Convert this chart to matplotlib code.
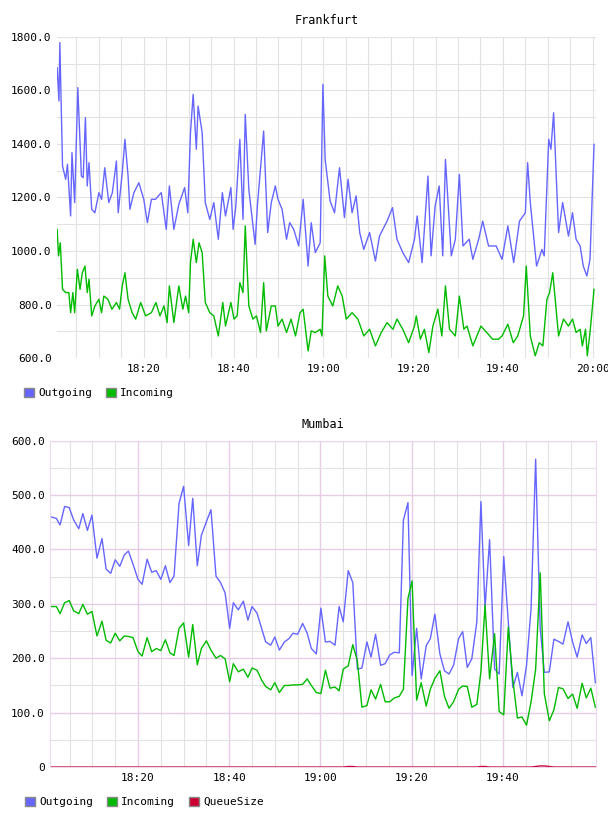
import matplotlib
matplotlib.use("Agg")
import matplotlib.pyplot as plt
from matplotlib.patches import Patch
from matplotlib.ticker import FuncFormatter

plt.rcParams['font.family'] = ['DejaVu Sans Mono']

# Frankfurt (minutes since 18:00)
fra_out_t = [0.7,1.1,1.3,1.9,2.6,3.0,3.7,4.0,4.6,5.3,6.1,6.5,7.0,7.4,7.8,8.4,9.1,10.0,10.6,11.3,12.2,13.0,13.9,14.3,15.2,15.8,16.5,16.9,17.8,18.9,20.0,20.8,21.7,22.6,23.9,25.0,25.7,26.7,27.8,29.1,29.8,30.4,31.0,31.7,32.1,33.0,33.7,34.7,35.6,36.6,37.5,38.2,39.4,39.9,40.5,41.4,42.1,42.6,43.4,44.8,45.3,46.7,47.6,48.4,49.3,49.9,50.8,51.8,52.5,53.4,54.5,55.5,56.6,57.3,58.2,59.3,59.9,60.4,61.5,62.5,63.6,64.7,65.5,66.4,67.3,68.1,69.0,70.3,71.6,72.5,74.2,75.4,76.4,77.7,79.0,80.3,80.9,82.0,83.3,84.0,84.9,85.8,86.6,87.2,88.5,89.4,90.3,91.1,92.5,93.3,94.6,95.5,96.8,98.5,99.8,101.1,102.4,103.7,105.0,105.5,106.1,106.9,107.5,108.7,109.2,110.2,110.7,111.3,112.4,113.3,114.6,115.5,116.3,117.2,117.9,118.7,119.4,120.3]
fra_out = [1684,1560,1778,1317,1268,1324,1131,1367,1181,1610,1280,1274,1498,1243,1330,1156,1143,1218,1193,1311,1181,1218,1336,1143,1293,1417,1280,1156,1218,1255,1193,1106,1193,1193,1218,1081,1243,1081,1174,1237,1143,1442,1585,1380,1541,1442,1181,1118,1181,1044,1218,1131,1237,1081,1168,1417,1118,1510,1230,1025,1168,1448,1069,1181,1243,1193,1156,1044,1106,1081,1019,1193,944,1106,994,1031,1622,1342,1187,1143,1311,1125,1268,1143,1206,1069,1006,1069,963,1056,1112,1162,1044,994,957,1044,1131,957,1280,982,1168,1243,982,1342,982,1044,1286,1019,1044,969,1044,1112,1019,1019,969,1094,957,1112,1143,1330,1181,1044,944,1006,982,1417,1380,1516,1069,1181,1056,1143,1044,1019,944,907,969,1398]
fra_in_t = [0.7,1.0,1.4,1.9,2.6,3.3,3.7,4.2,4.6,5.2,5.8,6.3,6.9,7.4,7.8,8.4,9.1,10.0,10.6,11.1,12.0,12.9,13.9,14.6,15.2,15.8,16.5,17.4,18.2,19.3,20.4,21.7,22.7,23.6,24.5,25.2,25.7,26.7,27.8,28.7,29.3,30.0,30.4,31.0,31.7,32.3,33.0,33.7,34.7,35.6,36.6,37.6,38.2,39.4,40.1,40.8,41.4,42.1,42.6,43.4,44.3,45.1,46.0,46.7,47.3,48.4,49.3,49.9,50.8,51.8,52.8,53.8,54.8,55.5,56.6,57.3,58.2,59.3,59.7,60.3,61.0,62.1,63.2,64.2,65.1,66.4,67.7,69.0,70.3,71.6,72.9,74.2,75.5,76.4,77.7,79.0,80.3,80.7,81.6,82.5,83.5,84.4,85.5,86.4,87.2,88.1,89.4,90.3,91.3,92.0,93.3,94.2,95.1,96.4,97.7,99.0,99.8,101.1,102.3,103.3,104.6,105.2,106.1,107.2,108.1,108.9,109.8,110.4,111.1,112.4,113.5,114.6,115.5,116.3,117.2,117.7,118.4,118.8,119.4,120.3]
fra_in = [1081,982,1031,857,845,845,770,845,770,932,857,919,944,845,895,758,795,820,770,832,820,783,808,783,870,919,820,770,746,808,758,770,808,758,795,733,870,733,870,783,832,770,957,1044,957,1031,994,808,770,758,683,808,720,808,746,758,882,845,1094,795,746,758,696,882,702,795,795,720,746,696,746,683,770,783,627,702,696,708,683,982,832,795,870,832,746,770,746,683,708,646,696,733,708,746,708,658,720,758,671,708,621,720,783,683,870,708,683,832,708,720,646,683,720,696,671,671,683,727,658,683,758,944,683,609,658,646,820,845,919,683,746,720,746,696,708,646,708,609,696,857]

# Mumbai
mum_t = [0.9,2.1,2.9,3.9,4.9,5.9,7.0,7.9,8.9,9.9,11.0,12.1,13.0,14.0,15.0,16.0,17.0,17.9,18.9,20.0,20.9,22.0,23.0,24.0,25.0,26.0,27.0,27.9,29.0,30.0,31.1,32.0,33.0,33.9,35.0,36.0,37.1,38.1,39.1,40.1,40.9,42.0,43.1,44.1,45.0,46.1,47.1,48.0,49.1,50.0,51.0,52.1,53.1,54.0,55.0,56.1,57.1,58.0,59.1,60.1,61.1,62.1,63.2,64.1,65.0,66.1,67.1,68.1,69.1,70.2,71.1,72.1,73.2,74.2,75.2,76.2,77.3,78.2,79.2,80.1,81.1,82.1,83.2,84.1,85.1,86.2,87.2,88.2,89.2,90.3,91.2,92.2,93.2,94.3,95.2,96.1,97.1,98.2,99.2,100.2,101.2,102.2,103.2,104.2,105.2,106.2,107.2,108.2,109.1,110.2,111.2,112.2,113.2,114.3,115.3,116.3,117.4,118.3,119.3,120.3]
mum_out = [460,457,445,479,477,454,438,466,435,463,384,420,364,356,381,369,390,397,373,345,336,382,358,361,345,370,339,351,485,516,407,494,370,426,451,473,351,339,320,255,302,289,305,270,295,283,255,230,224,239,215,230,236,246,244,264,246,218,208,292,230,231,224,295,267,361,339,180,182,230,202,244,187,190,206,211,210,454,486,168,255,162,223,236,281,208,177,171,187,236,249,183,199,267,488,292,418,180,171,387,267,146,174,131,187,292,566,255,174,175,235,231,226,267,230,202,243,227,238,155]
mum_in = [295,295,282,302,306,287,282,299,281,286,241,268,233,228,246,232,241,240,238,212,204,238,212,218,214,234,210,205,255,265,202,262,188,218,232,215,200,205,199,157,190,175,180,165,182,178,160,148,142,155,137,150,150,151,151,152,162,150,137,135,178,145,147,140,180,186,225,195,110,113,142,125,152,120,120,127,130,143,310,342,123,155,112,143,163,177,130,108,120,143,149,148,110,115,175,298,162,245,102,96,257,160,90,92,77,120,180,357,135,85,105,146,144,126,134,108,154,127,145,110]
mum_q = [0]*65 + [1,1] + [0]*27 + [1,1] + [0]*10 + [1,2,2,1] + [0]*10

x_ticks = [20, 40, 60, 80, 100, 120]
x_labels = ["18:20", "18:40", "19:00", "19:20", "19:40", "20:00"]

C_OUT, C_IN, C_Q = "#6666ff", "#00bb00", "#cc0033"

fig = plt.figure(figsize=(6.08, 8.16), dpi=100)

# Frankfurt
ax1 = fig.add_axes([0.094, 0.561, 0.886, 0.394])
ax1.plot(fra_out_t, fra_out, color=C_OUT, lw=1)
ax1.plot(fra_in_t, fra_in, color=C_IN, lw=1)
ax1.set_xlim(0.7, 120.7)
ax1.set_ylim(600, 1800)
ax1.set_yticks(range(600, 1801, 200))
ax1.set_yticks(range(700, 1800, 200), minor=True)
ax1.set_xticks(x_ticks)
ax1.set_xticklabels(x_labels)
ax1.set_xticks(range(5, 121, 5), minor=True)
ax1.yaxis.set_major_formatter(FuncFormatter(lambda v, p: f"{v:.1f}"))
ax1.grid(True, which='both', color='#e2e2e2', lw=0.8)
ax1.set_axisbelow(True)
for s in ax1.spines.values():
    s.set_visible(False)
ax1.tick_params(which='both', length=0, labelsize=8, pad=4)
ax1.set_title("Frankfurt", fontsize=8.5, pad=9)
ax1.legend(handles=[Patch(facecolor=C_OUT, edgecolor='#888'), Patch(facecolor=C_IN, edgecolor='#888')],
           labels=["Outgoing", "Incoming"], loc='upper left', bbox_to_anchor=(-0.08, -0.06),
           ncol=2, frameon=False, fontsize=8, handlelength=0.9, handleheight=0.9,
           handletextpad=0.4, columnspacing=1.2)

# Mumbai
ax2 = fig.add_axes([0.083, 0.060, 0.897, 0.400])
ax2.plot(mum_t, mum_out, color=C_OUT, lw=1)
ax2.plot(mum_t, mum_in, color=C_IN, lw=1)
ax2.plot(mum_t, mum_q, color=C_Q, lw=1)
ax2.set_xlim(0.8, 120.4)
ax2.set_ylim(0, 600)
ax2.set_yticks(range(0, 601, 100))
ax2.set_yticks(range(50, 600, 100), minor=True)
ax2.set_xticks(x_ticks[:5])
ax2.set_xticklabels(x_labels[:5])
ax2.set_xticks([m for m in range(5, 121, 5) if m % 20], minor=True)
ax2.yaxis.set_major_formatter(FuncFormatter(lambda v, p: "0" if v == 0 else f"{v:.1f}"))
ax2.grid(True, which='major', color='#e6cce6', lw=1)
ax2.grid(True, which='minor', color='#e2e2e2', lw=0.8)
ax2.set_axisbelow(True)
for s in ax2.spines.values():
    s.set_color('#ecd8ec')
ax2.tick_params(which='both', length=0, labelsize=8, pad=4)
ax2.set_title("Mumbai", fontsize=8.5, pad=9)
ax2.legend(handles=[Patch(facecolor=C_OUT, edgecolor='#888'), Patch(facecolor=C_IN, edgecolor='#888'),
                    Patch(facecolor=C_Q, edgecolor='#888')],
           labels=["Outgoing", "Incoming", "QueueSize"], loc='upper left', bbox_to_anchor=(-0.065, -0.06),
           ncol=3, frameon=False, fontsize=8, handlelength=0.9, handleheight=0.9,
           handletextpad=0.4, columnspacing=1.2)

fig.savefig("out.png", dpi=100)
